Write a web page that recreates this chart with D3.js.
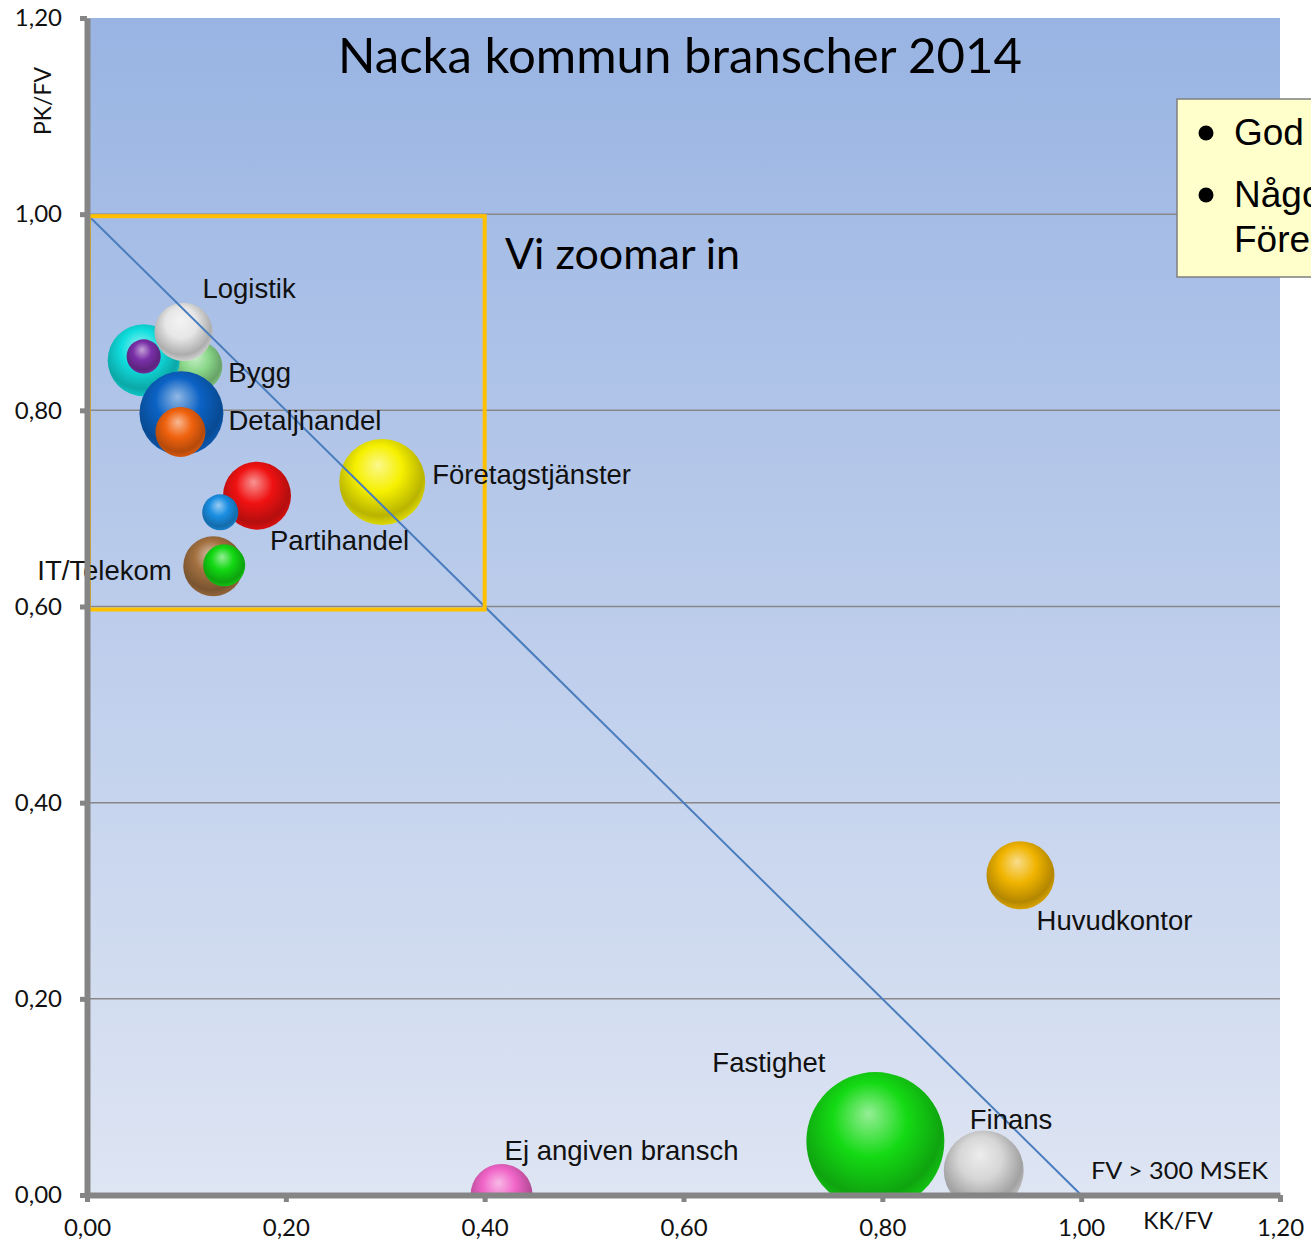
<!DOCTYPE html>
<html>
<head>
<meta charset="utf-8">
<script src="https://cdn.jsdelivr.net/npm/d3@7"></script>
<style>
  body { margin: 0; background: #fff; }
  svg { display: block; overflow: hidden; }
</style>
</head>
<body>
<svg width="1311" height="1246"></svg>
<script>
// branscher (bubbles), drawn back to front
var names = ["Bygg", "Cyan", "Lila", "Logistik", "Detaljhandel", "Orange", "Partihandel", "Blå",
             "IT/Telekom", "Grön", "Företagstjänster", "Huvudkontor", "Fastighet", "Finans", "Ej angiven bransch"];
var kkfv = [0.111, 0.057, 0.057, 0.097, 0.095, 0.094, 0.171, 0.134, 0.127, 0.138, 0.297, 0.939, 0.793, 0.902, 0.417];
var pkfv = [0.845, 0.851, 0.855, 0.880, 0.797, 0.778, 0.713, 0.696, 0.641, 0.642, 0.727, 0.326, 0.055, 0.025, 0.000];
var sizes = [13.1, 27.2, 6.1, 17.7, 37.0, 13.1, 24.3, 6.8, 18.9, 9.3, 38.8, 24.3, 100, 33.6, 20.2];
var colors = ["#8ad88a", "#10dede", "#7a30a8", "#e6e6e6", "#0b62c4", "#f0620e", "#f01212", "#1a8ee2",
              "#a27040", "#12d812", "#f6f000", "#f0b400", "#14da14", "#d6d6d6", "#f064c8"];

// labels: which bubble, offset from its centre
var labels = [
  { text: "Logistik", i: 3, dx: 19, dy: -34 },
  { text: "Bygg", i: 0, dx: 31, dy: 16 },
  { text: "Detaljhandel", i: 4, dx: 47, dy: 17 },
  { text: "Företagstjänster", i: 10, dx: 50, dy: 2 },
  { text: "Partihandel", i: 6, dx: 13, dy: 54 },
  { text: "IT/Telekom", i: 8, dx: -176, dy: 14 },
  { text: "Huvudkontor", i: 11, dx: 16, dy: 55 },
  { text: "Fastighet", i: 12, dx: -163, dy: -69 },
  { text: "Finans", i: 13, dx: -14, dy: -41 },
  { text: "Ej angiven bransch", i: 14, dx: 3, dy: -35 }
];

var tickValues = [0, 0.2, 0.4, 0.6, 0.8, 1.0, 1.2];
var legendLines = ["God", "Någo", "Före"];

document.addEventListener('DOMContentLoaded', function () {
  const svg = d3.select('svg');
  const left = 87, right = 1280, top = 18, bottom = 1195;

  const x = d3.scaleLinear().domain([0, 1.2]).range([left, right]);
  const y = d3.scaleLinear().domain([0, 1.2]).range([bottom, top]);
  const r = d3.scaleSqrt().domain([0, 100]).range([0, 69]);
  const fmt = d => d3.format(".2f")(d).replace(".", ",");

  const defs = svg.append('defs');
  const bg = defs.append('linearGradient').attr('id', 'bg')
    .attr('x1', 0).attr('y1', 0).attr('x2', 0).attr('y2', 1);
  bg.append('stop').attr('offset', '0%').attr('stop-color', '#99b4e3');
  bg.append('stop').attr('offset', '100%').attr('stop-color', '#dee5f3');

  defs.append('clipPath').attr('id', 'plotclip')
    .append('rect').attr('x', left).attr('y', top)
    .attr('width', right - left).attr('height', bottom - top);

  colors.forEach(function (c, i) {
    const g = defs.append('radialGradient').attr('id', 'ball' + i)
      .attr('cx', '0.47').attr('cy', '0.4').attr('r', '0.6')
      .attr('fx', '0.45').attr('fy', '0.3');
    g.append('stop').attr('offset', '0%').attr('stop-color', d3.interpolateRgb(c, '#ffffff')(0.55));
    g.append('stop').attr('offset', '45%').attr('stop-color', c);
    g.append('stop').attr('offset', '85%').attr('stop-color', d3.color(c).darker(0.8));
    g.append('stop').attr('offset', '100%').attr('stop-color', d3.color(c).darker(0.3));
  });

  // plot background
  svg.append('rect').attr('x', left).attr('y', top)
    .attr('width', right - left).attr('height', bottom - top)
    .attr('fill', 'url(#bg)');

  // gridlines
  svg.append('g').selectAll('line')
    .data(tickValues.filter(d => d > 0 && d < 1.2))
    .join('line')
    .attr('x1', left).attr('x2', right)
    .attr('y1', d => y(d)).attr('y2', d => y(d))
    .attr('stroke', '#878787').attr('stroke-width', 1.5);

  // bubbles
  const data = names.map((n, i) => ({ name: n, kk: kkfv[i], pk: pkfv[i], size: sizes[i], i: i }));
  svg.append('g').attr('clip-path', 'url(#plotclip)')
    .selectAll('circle').data(data).join('circle')
    .attr('cx', d => x(d.kk)).attr('cy', d => y(d.pk))
    .attr('r', d => r(d.size))
    .attr('fill', d => 'url(#ball' + d.i + ')');

  // diagonal KK/FV + PK/FV = 1
  svg.append('line')
    .attr('x1', x(0)).attr('y1', y(1)).attr('x2', x(1)).attr('y2', y(0))
    .attr('stroke', '#4a7dbd').attr('stroke-width', 2);

  // zoom box
  svg.append('rect')
    .attr('x', x(0) + 2).attr('y', y(1) + 2)
    .attr('width', x(0.4) - x(0) - 2).attr('height', y(0.6) - y(1) + 1)
    .attr('fill', 'none').attr('stroke', '#ffc000').attr('stroke-width', 4);

  // bubble labels
  svg.append('g').selectAll('text').data(labels).join('text')
    .attr('x', d => x(kkfv[d.i]) + d.dx)
    .attr('y', d => y(pkfv[d.i]) + d.dy)
    .attr('font-family', '"Liberation Sans", Arial, sans-serif')
    .attr('font-size', 27.5).attr('fill', '#111')
    .text(d => d.text);

  // axes
  const yAxis = d3.axisLeft(y).tickValues(tickValues).tickFormat(fmt)
    .tickSizeInner(7).tickSizeOuter(0).tickPadding(18);
  const xAxis = d3.axisBottom(x).tickValues(tickValues).tickFormat(fmt)
    .tickSizeInner(7).tickSizeOuter(0).tickPadding(21);

  const gy = svg.append('g').attr('transform', `translate(${left},0)`).call(yAxis);
  const gx = svg.append('g').attr('transform', `translate(0,${bottom})`).call(xAxis);
  [gy, gx].forEach(function (g) {
    g.select('.domain').attr('stroke', '#858585').attr('stroke-width', 6);
    g.selectAll('.tick line').attr('stroke', '#858585').attr('stroke-width', 5);
    g.selectAll('.tick text')
      .attr('font-family', 'Lato, "Open Sans", sans-serif')
      .attr('font-size', 24).attr('fill', '#111');
  });
  gx.selectAll('.tick text').attr('dy', '0.55em');

  // axis titles
  svg.append('text')
    .attr('transform', 'translate(51,101) rotate(-90)')
    .attr('text-anchor', 'middle')
    .attr('font-family', 'Lato, sans-serif').attr('font-size', 23).attr('fill', '#111')
    .text('PK/FV');
  svg.append('text')
    .attr('x', 1178).attr('y', 1229).attr('text-anchor', 'middle')
    .attr('font-family', 'Lato, sans-serif').attr('font-size', 23).attr('fill', '#111')
    .text('KK/FV');

  // title and annotations
  svg.append('text')
    .attr('x', 338).attr('y', 73)
    .attr('textLength', 684).attr('lengthAdjust', 'spacingAndGlyphs')
    .attr('font-family', 'Lato, sans-serif').attr('font-size', 48).attr('fill', '#000')
    .text('Nacka kommun branscher 2014');
  svg.append('text')
    .attr('x', 505).attr('y', 269)
    .attr('textLength', 235).attr('lengthAdjust', 'spacingAndGlyphs')
    .attr('font-family', 'Lato, sans-serif').attr('font-size', 42).attr('fill', '#000')
    .text('Vi zoomar in');
  svg.append('text')
    .attr('x', 1091).attr('y', 1179)
    .attr('textLength', 177).attr('lengthAdjust', 'spacingAndGlyphs')
    .attr('font-family', 'Lato, sans-serif').attr('font-size', 23).attr('fill', '#111')
    .text('FV > 300 MSEK');

  // text box at the right edge (cut by the page edge, as in the slide)
  const box = svg.append('g');
  box.append('rect').attr('x', 1177).attr('y', 99).attr('width', 200).attr('height', 178)
    .attr('fill', '#ffffcc').attr('stroke', '#7f7f7f').attr('stroke-width', 1.5);
  const lineY = [145, 207, 252];
  box.selectAll('text').data(legendLines).join('text')
    .attr('x', 1234).attr('y', (d, i) => lineY[i])
    .attr('font-family', '"Liberation Sans", Arial, sans-serif')
    .attr('font-size', 37).attr('fill', '#000')
    .text(d => d);
  box.selectAll('circle').data([0, 1]).join('circle')
    .attr('cx', 1206).attr('cy', (d, i) => lineY[i] - 12).attr('r', 7.5)
    .attr('fill', '#000');
});
</script>
</body>
</html>
